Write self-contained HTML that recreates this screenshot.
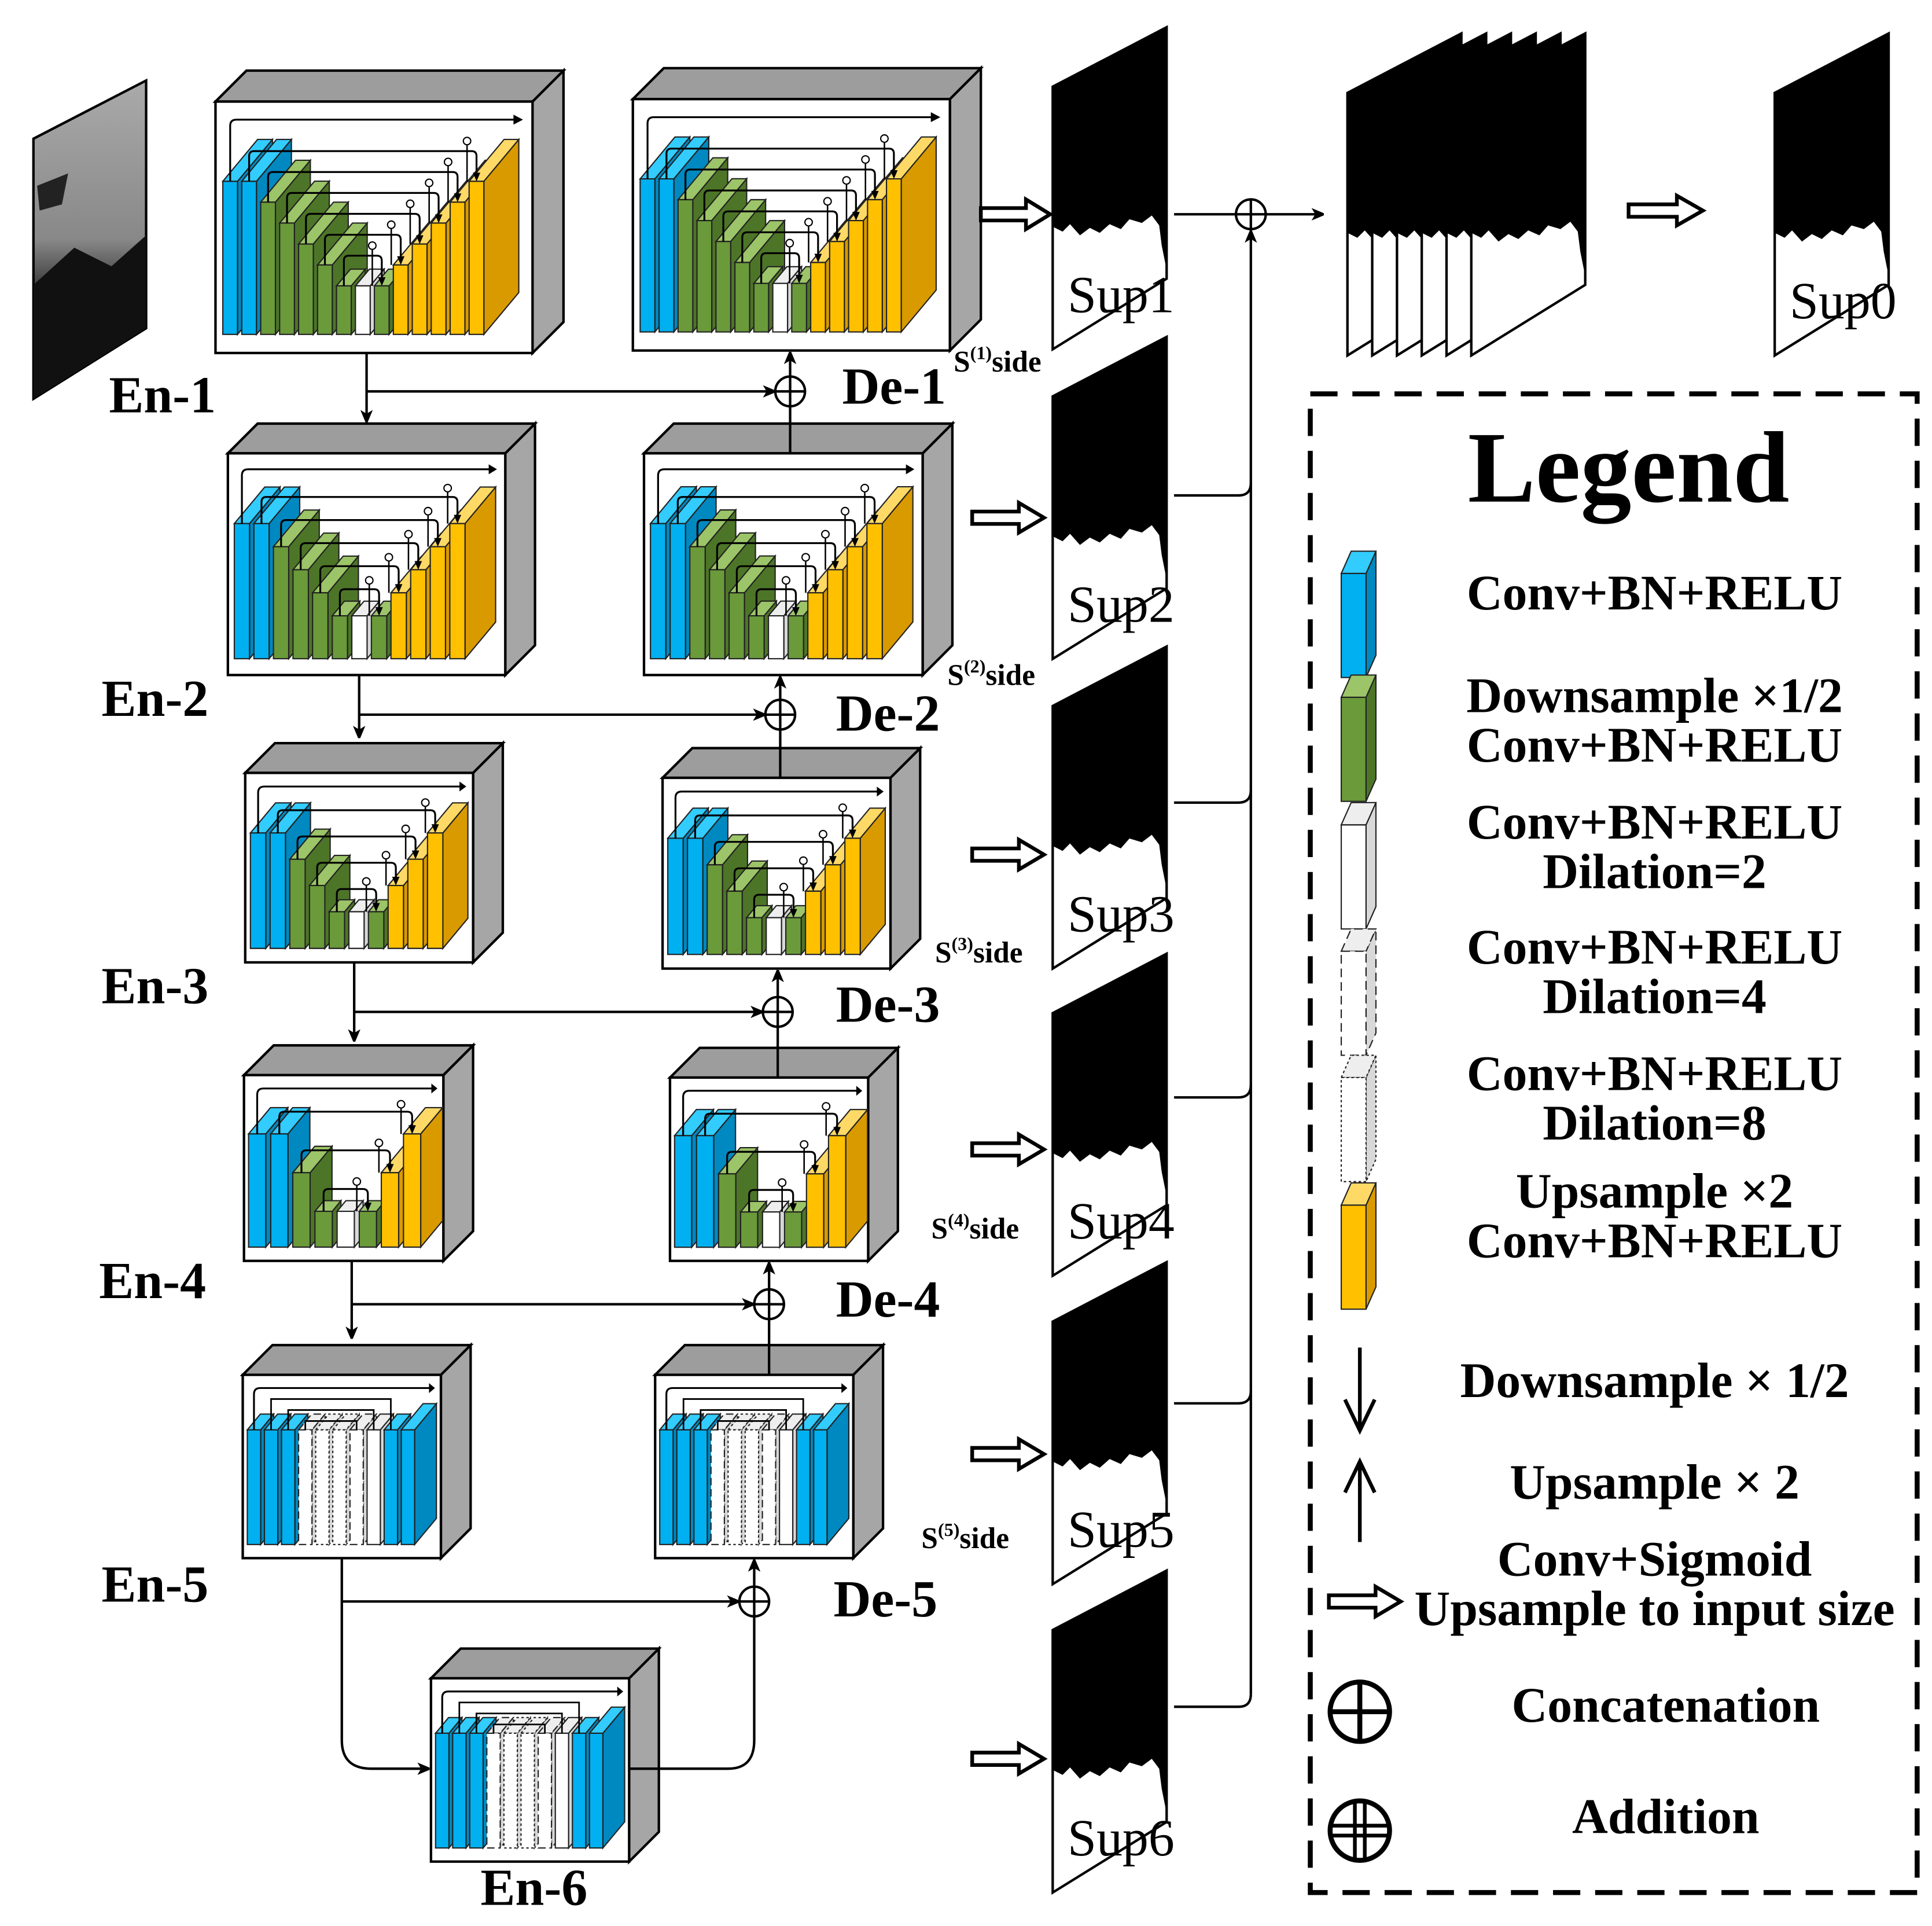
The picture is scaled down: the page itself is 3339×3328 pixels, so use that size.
<!DOCTYPE html>
<html><head><meta charset="utf-8">
<style>html,body{margin:0;padding:0;background:#fff}svg{display:block}</style>
</head><body>
<div id="c"></div>
<script>
var s='';
function P(pts,f,st,sw,extra){return '<polygon points="'+pts.map(function(p){return p[0].toFixed(1)+','+p[1].toFixed(1)}).join(' ')+'" fill="'+f+'" stroke="'+(st||'none')+'" stroke-width="'+(sw||1)+'" '+(extra||'')+'/>';}
function L(x1,y1,x2,y2,sw,extra){return '<line x1="'+x1+'" y1="'+y1+'" x2="'+x2+'" y2="'+y2+'" stroke="#000" stroke-width="'+(sw||2)+'" '+(extra||'')+'/>';}
function T(x,y,t,fs,extra){return '<text x="'+x+'" y="'+y+'" font-size="'+fs+'" '+(extra||'')+'>'+t+'</text>';}
var COL={B:['#00b0f0','#33ccff','#0088c0'],G:['#6a9a3a','#9cc468','#4d7528'],Y:['#ffc000','#ffd966','#d99a00'],W:['#ffffff','#eeeeee','#d8d8d8']};
function bar(x,yt,yb,bw,dx,dy,c,dash){
 var k=COL[c];var o='';var da=dash?'stroke-dasharray="'+dash+'"':'';
 o+=P([[x+bw,yt],[x+bw+dx,yt-dy],[x+bw+dx,yb-dy],[x+bw,yb]],k[2],'#222',1,da);
 o+=P([[x,yt],[x+dx,yt-dy],[x+bw+dx,yt-dy],[x+bw,yt]],k[1],'#222',1,da);
 o+=P([[x,yt],[x+bw,yt],[x+bw,yb],[x,yb]],k[0],'#222',1,da);
 return o;}
function block(x,y,w,h,d,lev){
 var o='';
 o+=P([[x+w,y],[x+w+d,y-d],[x+w+d,y+h-d],[x+w,y+h]],'#a6a6a6','#000',2);
 o+=P([[x,y],[x+d,y-d],[x+w+d,y-d],[x+w,y]],'#9d9d9d','#000',2);
 o+='<rect x="'+x+'" y="'+y+'" width="'+w+'" height="'+h+'" fill="#fff" stroke="#000" stroke-width="2"/>';
 var bars=[];
 if(lev>0){
  bars.push(['B',0.317,1],['B',0.317,1]);
  for(var i=1;i<=lev;i++){var v=0.317+(0.733-0.317)*i/lev;bars.push(['G',v,i==lev?0.4:1]);}
  bars.push(['W',0.733,0.4],['G',0.733,0.4]);
  for(var i=lev-1;i>=0;i--){var v=0.317+(0.733-0.317)*i/lev;bars.push(['Y',v,1]);}
 } else {
  bars=[['B',0.3,0.6],['B',0.3,0.6],['B',0.3,0.6],['W',0.3,0.6,'6,3'],['W',0.3,0.6,'2,2'],['W',0.3,0.6,'2,2'],['W',0.3,0.6,'6,3'],['W',0.3,0.6],['B',0.3,0.6],['B',0.3,1]];
 }
 var n=bars.length,p=0.777*w/(n-1),bw=p*0.78,dx=0.11*w,dy=dx*1.2,yb=y+0.926*h;
 var cx=[],ty=[];
 for(var i=0;i<n;i++){var bx=x+0.023*w+i*p;var yt=y+bars[i][1]*h;cx.push(bx+bw/2);ty.push(yt);
  o+=bar(bx,yt,yb,bw,dx*bars[i][2],dy*bars[i][2],bars[i][0],bars[i][3]);}
 var ytop=y+0.072*h;
 o+='<path d="M'+cx[0]+','+ty[0]+' V'+(ytop+5)+' Q'+cx[0]+','+ytop+' '+(cx[0]+5)+','+ytop+' H'+(x+0.96*w)+'" fill="none" stroke="#000" stroke-width="1.5"/>';
 o+=P([[x+0.97*w,ytop],[x+0.94*w,ytop-4],[x+0.94*w,ytop+4]],'#000');
 if(lev>0){
 for(var j=1;j<=lev+1;j++){var a=j,b=n-j;if(b<=a)break;var ly=ty[a]-0.12*h;
  o+='<path d="M'+cx[a]+','+ty[a]+' V'+(ly+4)+' Q'+cx[a]+','+ly+' '+(cx[a]+4)+','+ly+' H'+(cx[b]-4)+' Q'+cx[b]+','+ly+' '+cx[b]+','+(ly+4)+' V'+(ty[b]-4)+'" fill="none" stroke="#000" stroke-width="1.5"/>';
  o+=P([[cx[b],ty[b]],[cx[b]-3,ty[b]-7],[cx[b]+3,ty[b]-7]],'#000');
  o+=L(cx[b]-p*0.5,ty[b],cx[b]-p*0.5,ly-0.03*h,1.2);
  o+='<circle cx="'+(cx[b]-p*0.5)+'" cy="'+(ly-0.04*h)+'" r="3" fill="#fff" stroke="#000" stroke-width="1"/>';
 }} else {
  for(var j=1;j<4;j++){var ly=ytop+j*0.06*h;
   o+='<path d="M'+cx[j]+','+ty[j]+' V'+ly+' H'+cx[n-1-j]+' V'+ty[n-1-j]+'" fill="none" stroke="#000" stroke-width="1.3"/>';}
 }
 return o;}
function plus(x,y,r,dbl){var o='<circle cx="'+x+'" cy="'+y+'" r="'+r+'" fill="#fff" stroke="#000" stroke-width="2"/>'+L(x-r,y,x+r,y,2)+L(x,y-r,x,y+r,2);
 if(dbl){o+=L(x-r,y-3,x+r,y-3,2)+L(x-r,y+3,x+r,y+3,2)+L(x-3,y-r,x-3,y+r,2)+L(x+3,y-r,x+3,y+r,2);}return o;}
function harrow(x,y,len){var a=len*0.65;return P([[x,y-5],[x+a,y-5],[x+a,y-12],[x+len,y],[x+a,y+12],[x+a,y+5],[x,y+5]],'#fff','#000',3);}
function sheet(Lx,Ty,lab){var o='';
 o+=P([[Lx,Ty],[Lx+92,Ty-48],[Lx+92,Ty+155],[Lx,Ty+212]],'#fff','#000',2);
 var bl=[[0,0],[92,-48],[92,148],[88,128],[86,112],[80,104],[72,110],[62,107],[55,115],[46,111],[38,118],[30,114],[22,120],[14,111],[8,117],[0,113]];
 o+=P(bl.map(function(q){return [Lx+q[0],Ty+q[1]]}),'#000');
 if(lab)o+=T(Lx+12,Ty+182,lab,42,'font-family="Liberation Serif,serif"');
 return o;}
s+='<defs><marker id="ah" markerWidth="10" markerHeight="10" refX="9" refY="5" orient="auto" markerUnits="userSpaceOnUse"><path d="M0,0 L12,5 L0,10 L3,5 z" fill="#000"/></marker>';
s+='<linearGradient id="gi" x1="0" y1="0" x2="0" y2="1"><stop offset="0" stop-color="#aaa"/><stop offset="0.5" stop-color="#888"/><stop offset="0.7" stop-color="#222"/><stop offset="1" stop-color="#111"/></linearGradient></defs>';
s+=P([[27,112],[118,65],[118,265],[27,322]],'url(#gi)','#000',2);
s+=P([[27,230],[60,200],[90,215],[118,190],[118,265],[27,322]],'#111');
s+=P([[30,150],[55,140],[50,165],[32,170]],'#222');
s+=block(174,82,256,203,25,5);
s+=block(511,80,256,203,25,5);
s+=block(184,366,224,179,24,4);
s+=block(520,366,225,179,24,4);
s+=block(198,624,184,153,24,3);
s+=block(535,628,184,154,24,3);
s+=block(197,868,161,150,24,2);
s+=block(541,870,160,148,24,2);
s+=block(196,1110,160,148,24,0);
s+=block(529,1110,160,148,24,0);
s+=block(348,1355,160,148,24,0);
var ex=[296,290,286,284],eb=[285,545,777,1018],et=[343,598,843,1083],hy=[316,577,817,1053],px=[638,630,628,621],db=[283,545,782,1018],dt=[366,628,870,1110];
for(var i=0;i<4;i++){
 s+=L(ex[i],eb[i],ex[i],et[i]-3,2,'marker-end="url(#ah)"');
 s+='<path d="M'+ex[i]+','+hy[i]+' H'+(px[i]-13)+'" stroke="#000" stroke-width="2" fill="none" marker-end="url(#ah)"/>';
 s+=L(px[i],hy[i]-12,px[i],db[i]+2,2,'marker-end="url(#ah)"');
 s+=L(px[i],dt[i],px[i],hy[i]+12,2);
 s+=plus(px[i],hy[i],12);
}
s+='<path d="M276,1258 V1405 Q276,1428 300,1428 H346" stroke="#000" stroke-width="2" fill="none" marker-end="url(#ah)"/>';
s+='<path d="M276,1293 H596" stroke="#000" stroke-width="2" fill="none" marker-end="url(#ah)"/>';
s+=L(609,1281,609,1260,2,'marker-end="url(#ah)"');
s+='<path d="M508,1428 H588 Q609,1428 609,1405 V1305" stroke="#000" stroke-width="2" fill="none"/>';
s+=plus(609,1293,12);
var F='font-family="Liberation Serif,serif" font-weight="bold"';
[['En-1',88,333],['En-2',82,578],['En-3',82,810],['En-4',80,1048],['En-5',82,1293],['En-6',388,1538],['De-1',680,326],['De-2',675,590],['De-3',675,825],['De-4',675,1063],['De-5',673,1305]].forEach(function(a){s+=T(a[1],a[2],a[0],42,F);});
[[770,300,1],[765,553,2],[755,777,3],[752,1000,4],[744,1250,5]].forEach(function(a){s+='<text x="'+a[0]+'" y="'+a[1]+'" font-size="24" '+F+'>S<tspan font-size="15" dy="-10">('+a[2]+')</tspan><tspan dy="10">side</tspan></text>';});
var st=[70,320,570,818,1067,1316];
for(var i=0;i<6;i++){s+=sheet(850,st[i],'Sup'+(i+1));}
s+=harrow(792,173,56);
[418,690,928,1174,1420].forEach(function(y){s+=harrow(785,y,58);});
[400,648,886,1133,1378].forEach(function(y){s+='<path d="M948,'+y+' H1000 Q1010,'+y+' 1010,'+(y-10)+'" stroke="#000" stroke-width="2" fill="none"/>';});
s+=L(1010,1368,1010,187,2,'marker-end="url(#ah)"');
s+=L(948,173,998,173,2);
s+=L(1022,173,1068,173,2,'marker-end="url(#ah)"');
s+=plus(1010,173,12);
for(var k=0;k<6;k++){s+=sheet(1088+k*20,75,'');}
s+=harrow(1315,170,60);
s+=sheet(1433,75,'Sup0');
s+='<rect x="1058" y="318" width="490" height="1210" fill="none" stroke="#000" stroke-width="4" stroke-dasharray="22,12"/>';
s+=T(1315,405,'Legend',82,F+' text-anchor="middle"');
var lb=[['B',445],['G',545],['W',648],['W',750,'7,4'],['W',852,'2,2'],['Y',955]];
lb.forEach(function(a){s+=bar(1083,a[1]+18,a[1]+102,20,8,18,a[0],a[2]);});
var FT=F+' text-anchor="middle"';
[['Conv+BN+RELU',492],['Downsample ×1/2',575],['Conv+BN+RELU',615],['Conv+BN+RELU',677],['Dilation=2',717],['Conv+BN+RELU',778],['Dilation=4',818],['Conv+BN+RELU',880],['Dilation=8',920],['Upsample ×2',975],['Conv+BN+RELU',1015],['Downsample × 1/2',1128],['Upsample × 2',1210],['Conv+Sigmoid',1272],['Upsample to input size',1312]].forEach(function(a){s+=T(1336,a[1],a[0],40,FT);});
s+=T(1345,1390,'Concatenation',40,FT);
s+=T(1345,1480,'Addition',40,FT);
s+=L(1098,1088,1098,1152,3)+'<path d="M1086,1130 L1098,1155 L1110,1130" fill="none" stroke="#000" stroke-width="3"/>';
s+=L(1098,1182,1098,1245,3)+'<path d="M1086,1205 L1098,1180 L1110,1205" fill="none" stroke="#000" stroke-width="3"/>';
s+=harrow(1073,1293,58);
s+='<circle cx="1098" cy="1382" r="24" fill="#fff" stroke="#000" stroke-width="4"/>'+L(1074,1382,1122,1382,4)+L(1098,1358,1098,1406,4);
s+='<circle cx="1098" cy="1478" r="24" fill="#fff" stroke="#000" stroke-width="4"/>'+L(1074,1474,1122,1474,3)+L(1074,1482,1122,1482,3)+L(1094,1454,1094,1502,3)+L(1102,1454,1102,1502,3);
document.getElementById('c').innerHTML='<svg xmlns="http://www.w3.org/2000/svg" width="3339" height="3328" viewBox="0 0 1560 1555" preserveAspectRatio="none">'+s+'</svg>';
</script>
</body></html>
